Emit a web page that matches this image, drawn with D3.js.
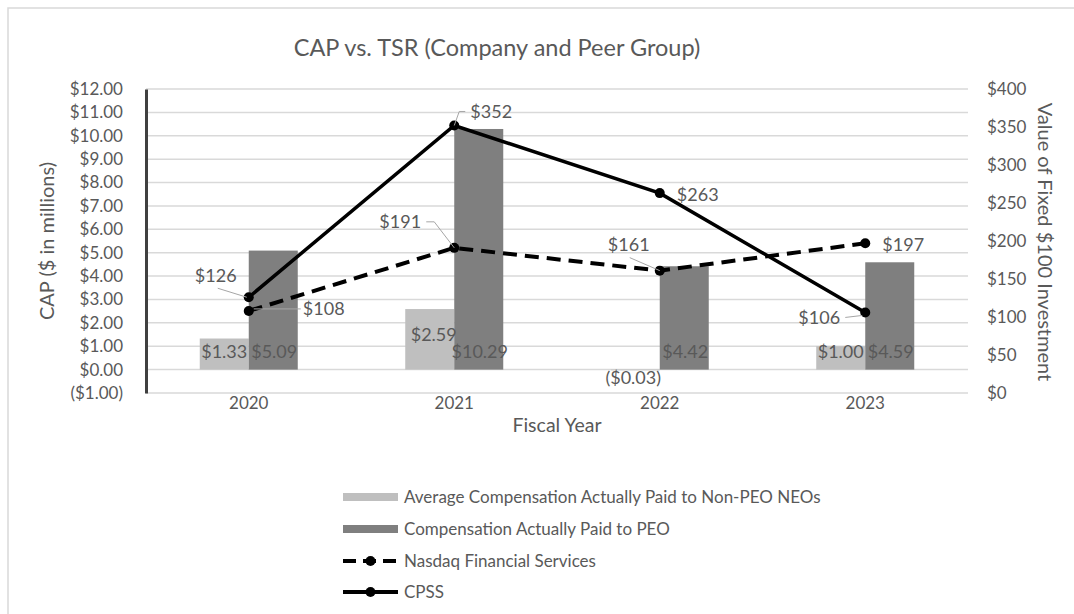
<!DOCTYPE html>
<html>
<head>
<meta charset="utf-8">
<script src="https://d3js.org/d3.v7.min.js"></script>
<style>
  body { margin: 0; background: #fff; }
  text { font-family: Lato, "Noto Sans", sans-serif; fill: #595959; }
</style>
</head>
<body>
<div id="chart"></div>
<script>
// --- data ---
const years = ["2020", "2021", "2022", "2023"];
const nonPeoCap = [1.33, 2.59, -0.03, 1.00];
const peoCap = [5.09, 10.29, 4.42, 4.59];
const nasdaqTsr = [108, 191, 161, 197];
const cpssTsr = [126, 352, 263, 106];
const leftTicks = d3.range(-1, 13, 1);
const rightTicks = d3.range(0, 401, 50);
const legendLabels = [
  "Average Compensation Actually Paid to Non-PEO NEOs",
  "Compensation Actually Paid to PEO",
  "Nasdaq Financial Services",
  "CPSS"
];

const width = 1074, height = 614;
const plot = { left: 146, right: 968, top: 89, bottom: 393 };

const svg = d3.select("#chart").append("svg")
  .attr("width", width).attr("height", height);

// outer border
svg.append("rect").attr("x", 8).attr("y", 8).attr("width", 1080).attr("height", 620)
  .attr("fill", "none").attr("stroke", "#d9d9d9").attr("stroke-width", 1.5);

const x = d3.scaleBand().domain(years).range([plot.left, plot.right]).padding(0);
const yL = d3.scaleLinear().domain([-1, 12]).range([plot.bottom, plot.top]);
const yR = d3.scaleLinear().domain([0, 400]).range([plot.bottom, plot.top]);
const cx = d => x(d) + x.bandwidth() / 2;
const barW = 49;

// gridlines
svg.append("g").selectAll("line").data(leftTicks).join("line")
  .attr("x1", plot.left).attr("x2", plot.right)
  .attr("y1", d => yL(d)).attr("y2", d => yL(d))
  .attr("stroke", "#d9d9d9").attr("stroke-width", 1.5);

// left axis
const gL = svg.append("g").attr("transform", `translate(${plot.left},0)`)
  .call(d3.axisLeft(yL).tickValues(leftTicks).tickSize(0).tickPadding(23)
    .tickFormat(d => d < 0 ? `($${Math.abs(d).toFixed(2)})` : `$${d.toFixed(2)}`));
gL.select(".domain").attr("stroke", "#404040").attr("stroke-width", 3);
gL.selectAll("text").style("font-size", "17px").attr("fill", "#595959")
  .style("font-family", "Lato, sans-serif");

// right axis
const gR = svg.append("g").attr("transform", `translate(${plot.right},0)`)
  .call(d3.axisRight(yR).tickValues(rightTicks).tickSize(0).tickPadding(19)
    .tickFormat(d => `$${d}`));
gR.select(".domain").remove();
gR.selectAll("text").style("font-size", "17px").attr("fill", "#595959")
  .style("font-family", "Lato, sans-serif");

// bottom category labels
const gB = svg.append("g").attr("transform", `translate(0,${plot.bottom})`)
  .call(d3.axisBottom(x).tickSize(0).tickPadding(4));
gB.select(".domain").remove();
gB.selectAll("text").style("font-size", "17px").attr("fill", "#595959")
  .style("font-family", "Lato, sans-serif");

// bars
svg.append("g").selectAll("rect").data(years).join("rect")
  .attr("x", d => cx(d) - barW)
  .attr("width", barW)
  .attr("y", (d, i) => yL(Math.max(0, nonPeoCap[i])))
  .attr("height", (d, i) => Math.abs(yL(nonPeoCap[i]) - yL(0)))
  .attr("fill", "#bfbfbf");
svg.append("g").selectAll("rect").data(years).join("rect")
  .attr("x", d => cx(d))
  .attr("width", barW)
  .attr("y", (d, i) => yL(Math.max(0, peoCap[i])))
  .attr("height", (d, i) => Math.abs(yL(peoCap[i]) - yL(0)))
  .attr("fill", "#7f7f7f");

// bar labels
const money = v => v < 0 ? `($${Math.abs(v).toFixed(2)})` : `$${v.toFixed(2)}`;
const nonPeoDy = [-18, -35, 8, -18];
const nonPeoDx = [0, 4, -2, 0];
svg.append("g").selectAll("text").data(years).join("text")
  .attr("x", (d, i) => cx(d) - barW / 2 + nonPeoDx[i])
  .attr("y", (d, i) => yL(0) + nonPeoDy[i])
  .attr("dy", "0.35em").attr("text-anchor", "middle").style("font-size", "18px")
  .text((d, i) => money(nonPeoCap[i]));
svg.append("g").selectAll("text").data(years).join("text")
  .attr("x", d => cx(d) + barW / 2 + 1)
  .attr("y", d => yL(0) - 18)
  .attr("dy", "0.35em").attr("text-anchor", "middle").style("font-size", "18px")
  .text((d, i) => money(peoCap[i]));

// lines
const line = vals => d3.line().x((d, i) => cx(years[i])).y(d => yR(d))(vals);
svg.append("path").attr("d", line(nasdaqTsr)).attr("fill", "none")
  .attr("stroke", "#000").attr("stroke-width", 4).attr("stroke-dasharray", "14,8");
svg.append("path").attr("d", line(cpssTsr)).attr("fill", "none")
  .attr("stroke", "#000").attr("stroke-width", 3.5);
[nasdaqTsr, cpssTsr].forEach(vals => {
  svg.append("g").selectAll("circle").data(vals).join("circle")
    .attr("cx", (d, i) => cx(years[i])).attr("cy", d => yR(d)).attr("r", 5)
    .attr("fill", "#000");
});

// line labels (offsets relative to point, leader lines where the original had them)
const nasdaqLab = [
  { dx: 75, dy: -2, lead: [[5, -2], [52, -2]] },
  { dx: -54, dy: -26, lead: [[-28, -26], [-20, -26], [0, 0]] },
  { dx: -31, dy: -26, lead: [[-30, -13], [0, 0]] },
  { dx: 38, dy: 1, lead: null }
];
const cpssLab = [
  { dx: -33, dy: -22, lead: [[-31, -9], [-2, 0]] },
  { dx: 37, dy: -14, lead: [[0, 0], [5, -14], [11, -14]] },
  { dx: 38, dy: 2, lead: null },
  { dx: -46, dy: 5, lead: [[-20, 5], [-3, 3]] }
];
function drawLabels(vals, lab) {
  vals.forEach((v, i) => {
    const px = cx(years[i]), py = yR(v), L = lab[i];
    if (L.lead) {
      svg.append("path")
        .attr("d", d3.line()(L.lead.map(p => [px + p[0], py + p[1]])))
        .attr("fill", "none").attr("stroke", "#a6a6a6").attr("stroke-width", 1);
    }
    svg.append("text").attr("x", px + L.dx).attr("y", py + L.dy).attr("dy", "0.35em")
      .attr("text-anchor", "middle").style("font-size", "18px").text(`$${v}`);
  });
}
drawLabels(nasdaqTsr, nasdaqLab);
drawLabels(cpssTsr, cpssLab);

// titles
svg.append("text").attr("x", 497).attr("y", 48).attr("dy", "0.35em")
  .attr("text-anchor", "middle").style("font-size", "23.5px").text("CAP vs. TSR (Company and Peer Group)");
svg.append("text").attr("transform", "translate(47,241) rotate(-90)").attr("dy", "0.35em")
  .attr("text-anchor", "middle").style("font-size", "20px").text("CAP ($ in millions)");
svg.append("text").attr("transform", "translate(1045,242) rotate(90)").attr("dy", "0.35em")
  .attr("text-anchor", "middle").style("font-size", "20px").text("Value of Fixed $100 Investment");
svg.append("text").attr("x", 557).attr("y", 425).attr("dy", "0.35em")
  .attr("text-anchor", "middle").style("font-size", "19.5px").text("Fiscal Year");

// legend
const legY = [497, 529, 561, 592];
const lg = svg.append("g");
legendLabels.forEach((t, i) => {
  const y = legY[i];
  if (i === 0 || i === 1) {
    lg.append("rect").attr("x", 343).attr("y", y - 4).attr("width", 55).attr("height", 8)
      .attr("fill", i === 0 ? "#bfbfbf" : "#7f7f7f");
  } else {
    lg.append("line").attr("x1", 343).attr("x2", 398).attr("y1", y).attr("y2", y)
      .attr("stroke", "#000").attr("stroke-width", 4)
      .attr("stroke-dasharray", i === 2 ? "13,7" : null);
    lg.append("circle").attr("cx", 370.5).attr("cy", y).attr("r", 5).attr("fill", "#000");
  }
  lg.append("text").attr("x", 404).attr("y", y).attr("dy", "0.35em")
    .style("font-size", "17px").text(t);
});
</script>
</body>
</html>
